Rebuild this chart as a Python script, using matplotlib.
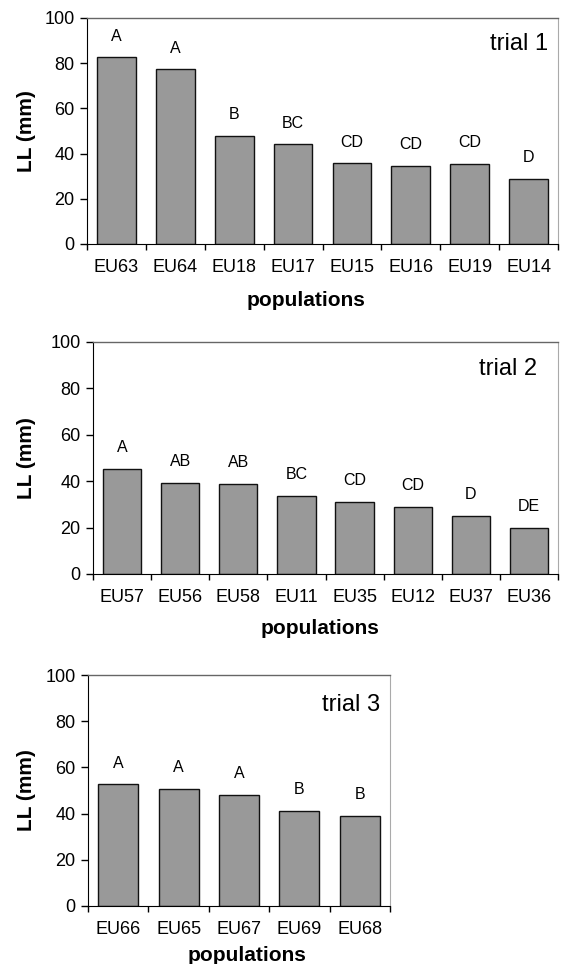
import numpy as np
import matplotlib
matplotlib.use('Agg')
import matplotlib.pyplot as plt
from matplotlib.ticker import FixedLocator

plt.rcParams['font.family'] = ['Liberation Sans', 'DejaVu Sans']

# Data
pops1 = ['EU63', 'EU64', 'EU18', 'EU17', 'EU15', 'EU16', 'EU19', 'EU14']
ll1 = [82.6, 77.4, 47.8, 44.2, 35.7, 34.5, 35.4, 28.8]
grp1 = ['A', 'A', 'B', 'BC', 'CD', 'CD', 'CD', 'D']

pops2 = ['EU57', 'EU56', 'EU58', 'EU11', 'EU35', 'EU12', 'EU37', 'EU36']
ll2 = [45.2, 39.4, 38.7, 33.5, 31.0, 28.8, 24.9, 20.0]
grp2 = ['A', 'AB', 'AB', 'BC', 'CD', 'CD', 'D', 'DE']

pops3 = ['EU66', 'EU65', 'EU67', 'EU69', 'EU68']
ll3 = [52.6, 50.7, 48.1, 41.2, 39.0]
grp3 = ['A', 'A', 'A', 'B', 'B']

W, H = 562, 964
fig = plt.figure(figsize=(W / 100, H / 100), dpi=100)

# (left, right, top, bottom) in pixels, label positions in axes coords
panels = [
    (pops1, ll1, grp1, 'trial 1', (87, 558, 18, 244), (0.979, 0.858), -0.1295, (0.466, -0.252)),
    (pops2, ll2, grp2, 'trial 2', (93, 558, 342, 574), (0.955, 0.857), -0.144, (0.488, -0.234)),
    (pops3, ll3, grp3, 'trial 3', (88, 390, 675, 906), (0.967, 0.845), -0.205, (0.525, -0.216)),
]

for pops, vals, grps, title, (l, r, t, b), tpos, ylx, xlab in panels:
    ax = fig.add_axes([l / W, 1 - b / H, (r - l) / W, (b - t) / H])
    x = np.arange(len(pops))
    ax.bar(x, vals, width=0.66, color='#999999', edgecolor='#111111', linewidth=1.0)
    for xi, v, g in zip(x, vals, grps):
        ax.text(xi, v + 6, g, ha='center', va='bottom', fontsize=11.5)

    ax.set_xlim(-0.5, len(pops) - 0.5)
    ax.set_ylim(0, 100)
    ax.set_yticks(range(0, 101, 20))
    ax.set_xticks(x)
    ax.set_xticklabels(pops)
    ax.xaxis.set_minor_locator(FixedLocator(np.arange(-0.5, len(pops), 1.0)))
    ax.tick_params(axis='x', which='major', length=0, pad=11, labelsize=13)
    ax.tick_params(axis='x', which='minor', length=4, direction='out', width=1)
    ax.tick_params(axis='y', length=5, direction='out', width=1, labelsize=13, pad=4)

    ax.spines['left'].set_color('black')
    ax.spines['bottom'].set_color('black')
    ax.spines['top'].set_color('#666666')
    ax.spines['right'].set_color('#aaaaaa')
    ax.spines['top'].set_linewidth(1.0)
    ax.spines['right'].set_linewidth(0.8)

    ax.set_ylabel('LL (mm)', fontsize=15, fontweight='bold', va='center')
    ax.yaxis.set_label_coords(ylx, 0.5)
    ax.set_xlabel('populations', fontsize=15, fontweight='bold', va='center')
    ax.xaxis.set_label_coords(*xlab)

    ax.text(tpos[0], tpos[1], title, transform=ax.transAxes, ha='right',
            va='baseline', fontsize=17)

fig.savefig('out.png', dpi=100)
